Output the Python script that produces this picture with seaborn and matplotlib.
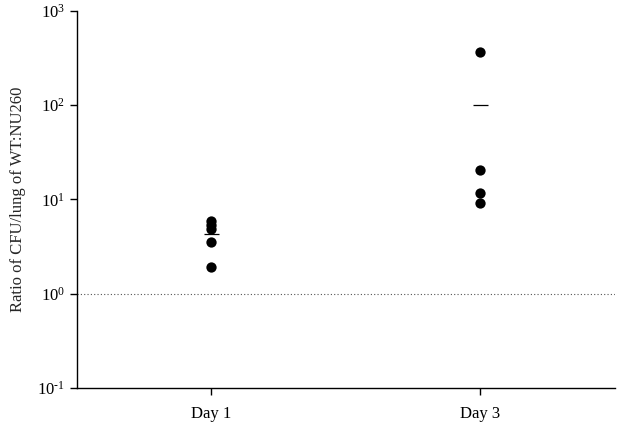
import numpy as np
import pandas as pd
import matplotlib
matplotlib.use('Agg')
import matplotlib.pyplot as plt
from matplotlib.ticker import FuncFormatter, NullLocator
import seaborn as sns

# data
day_labels = ['Day 1', 'Day 3']
day_pos = [1, 3]
day1_ratio = [5.9, 5.3, 4.9, 3.5, 1.9]
day3_ratio = [363, 20.7, 11.7, 9.2]
y_exponents = [-1, 0, 1, 2, 3]

data = pd.DataFrame({
    'Day': np.repeat(day_pos, [len(day1_ratio), len(day3_ratio)]),
    'Ratio': np.concatenate([day1_ratio, day3_ratio])
})
means = data.groupby('Day')['Ratio'].mean()

sns.set_style('ticks')
plt.rcParams['font.family'] = ['Liberation Serif', 'DejaVu Serif']
plt.rcParams['mathtext.fontset'] = 'custom'
plt.rcParams['mathtext.rm'] = 'Liberation Serif'
plt.rcParams['mathtext.it'] = 'Liberation Serif:italic'


def pow10_label(v, pos):
    e = int(round(np.log10(v)))
    e_txt = r'\text{-}' + str(-e) if e < 0 else str(e)
    return r'$\mathdefault{10^{' + e_txt + '}}$'


fig = plt.figure(figsize=(6.22, 4.29), dpi=100)
ax = fig.add_axes([0.1238, 0.0956, 0.8649, 0.8788])

sns.scatterplot(x='Day', y='Ratio', data=data, ax=ax, color='black',
                s=55, edgecolor='black', linewidth=0, zorder=3)
ax.hlines(means.values, means.index - 0.055, means.index + 0.055,
          color='black', linewidth=0.9, zorder=4)
ax.axhline(1, color='#555555', linestyle=(0, (1, 2)), linewidth=0.8, zorder=1)

ax.set_yscale('log')
ax.set_ylim(0.1, 1000)
ax.set_xlim(0, 4)
ax.set_xticks(day_pos)
ax.set_xticklabels(day_labels)
ax.set_yticks([10.0 ** e for e in y_exponents])
ax.yaxis.set_major_formatter(FuncFormatter(pow10_label))
ax.yaxis.set_minor_locator(NullLocator())
ax.set_xlabel('')
ax.set_ylabel('Ratio of CFU/lung of WT:NU260', fontsize=12, labelpad=8)
ax.tick_params(axis='both', labelsize=12, length=5, width=1, color='black',
               labelcolor='black')
ax.tick_params(axis='x', pad=8)
for side in ['left', 'bottom']:
    ax.spines[side].set_color('black')
    ax.spines[side].set_linewidth(1)
sns.despine(ax=ax)

fig.savefig('out.png', dpi=100)
